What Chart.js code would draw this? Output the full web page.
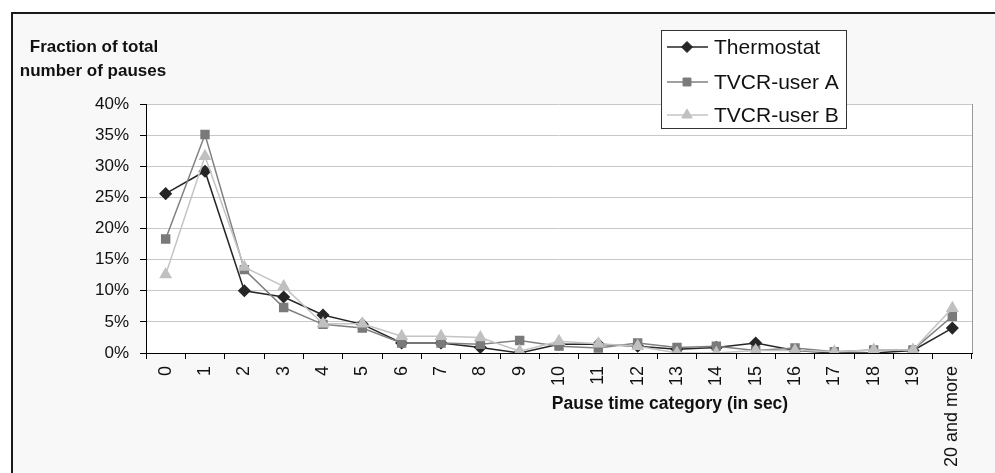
<!DOCTYPE html>
<html>
<head>
<meta charset="utf-8">
<script src="https://cdn.jsdelivr.net/npm/chart.js@4/dist/chart.umd.min.js"></script>
<style>
  html, body { margin: 0; padding: 0; background: #ffffff; }
  body { width: 995px; height: 473px; position: relative; overflow: hidden; }
  #frame { position: absolute; left: 11px; top: 12px; width: 1000px; height: 500px;
           border: 2px solid #1a1a1a; background: #f8f8f8; box-sizing: border-box; }
  #c { position: absolute; left: 0; top: 0; }
</style>
</head>
<body>
<div id="frame"></div>
<canvas id="c" width="995" height="473"></canvas>
<script>
const categories = ['0','1','2','3','4','5','6','7','8','9','10','11','12','13','14','15','16','17','18','19','20 and more'];
const thermostat = [25.6, 29.2, 10.0, 9.0, 6.1, 4.6, 1.6, 1.6, 0.9, 0.0, 1.4, 1.4, 1.1, 0.6, 0.9, 1.6, 0.4, 0.0, 0.0, 0.4, 4.0];
const tvcrUserA  = [18.3, 35.1, 13.4, 7.3, 4.6, 4.0, 1.6, 1.6, 1.4, 2.0, 1.1, 0.8, 1.6, 0.9, 1.1, 0.4, 0.8, 0.2, 0.5, 0.5, 5.9];
const tvcrUserB  = [12.6, 31.6, 13.8, 10.7, 4.7, 4.7, 2.7, 2.7, 2.5, 0.3, 1.9, 1.5, 1.1, 0.0, 0.0, 0.4, 0.4, 0.2, 0.5, 0.5, 7.2];
const seriesNames = ['Thermostat', 'TVCR-user A', 'TVCR-user B'];
const yTitleLines = ['Fraction of total', 'number of pauses'];
const xTitle = 'Pause time category (in sec)';

const FONT = "'Liberation Sans', Arial, sans-serif";

const decor = {
  id: 'decor',
  beforeDraw(chart) {
    const { ctx, chartArea: a } = chart;
    ctx.save();
    ctx.fillStyle = '#ffffff';
    ctx.fillRect(a.left, a.top, a.right - a.left, a.bottom - a.top);
    ctx.restore();
  },
  afterDatasetsDraw(chart) {
    const { ctx, chartArea: a } = chart;
    ctx.save();
    ctx.strokeStyle = '#9a9a9a';
    ctx.lineWidth = 1;
    ctx.beginPath();
    ctx.moveTo(a.right + 0.5, a.top);
    ctx.lineTo(a.right + 0.5, a.bottom);
    ctx.stroke();
    ctx.fillStyle = '#111';
    ctx.font = 'bold 17px ' + FONT;
    ctx.textAlign = 'center';
    ctx.textBaseline = 'middle';
    ctx.fillText(yTitleLines[0], 94, 47);
    ctx.fillText(yTitleLines[1], 93, 71);
    ctx.font = 'bold 17.5px ' + FONT;
    ctx.fillText(xTitle, 670, 404);
    const lx = 661, ly = 30, lw = 185, lh = 98;
    ctx.fillStyle = '#ffffff';
    ctx.fillRect(lx, ly, lw, lh);
    ctx.strokeStyle = '#333';
    ctx.lineWidth = 1;
    ctx.strokeRect(lx + 0.5, ly + 0.5, lw, lh);
    const rows = [47, 82, 115];
    chart.data.datasets.forEach((ds, i) => {
      const y = rows[i];
      ctx.strokeStyle = ds.borderColor;
      ctx.lineWidth = ds.borderWidth;
      ctx.beginPath();
      ctx.moveTo(667, y);
      ctx.lineTo(708, y);
      ctx.stroke();
      ctx.fillStyle = ds.pointBackgroundColor;
      ctx.strokeStyle = ds.pointBorderColor;
      ctx.lineWidth = 1;
      Chart.helpers.drawPoint(ctx, {
        pointStyle: ds.pointStyle, radius: ds.pointRadius, borderWidth: 1
      }, 687, y);
      ctx.fillStyle = '#111';
      ctx.font = '21px ' + FONT;
      ctx.textAlign = 'left';
      ctx.textBaseline = 'middle';
      ctx.fillText(seriesNames[i], 714, y + 1);
    });
    ctx.restore();
  }
};

new Chart(document.getElementById('c'), {
  type: 'line',
  data: {
    labels: categories,
    datasets: [
      { label: seriesNames[0], data: thermostat, borderColor: '#262626', borderWidth: 1.5,
        pointStyle: 'rectRot', pointRadius: 5.5, pointBackgroundColor: '#262626', pointBorderColor: '#262626', order: 2 },
      { label: seriesNames[1], data: tvcrUserA, borderColor: '#808080', borderWidth: 1.5,
        pointStyle: 'rect', pointRadius: 5.6, pointBackgroundColor: '#7a7a7a', pointBorderColor: '#7a7a7a', order: 1 },
      { label: seriesNames[2], data: tvcrUserB, borderColor: '#c4c4c4', borderWidth: 1.5,
        pointStyle: 'triangle', pointRadius: 6, pointBackgroundColor: '#c0c0c0', pointBorderColor: '#c0c0c0', order: 0 }
    ]
  },
  options: {
    responsive: false,
    animation: false,
    devicePixelRatio: 1,
    layout: { padding: { top: 104, right: 23, left: 0, bottom: 0 } },
    elements: { line: { tension: 0 } },
    plugins: { legend: { display: false }, tooltip: { enabled: false }, title: { display: false } },
    scales: {
      x: {
        type: 'category',
        offset: true,
        grid: { offset: true, drawOnChartArea: false, drawTicks: true, tickLength: 6, tickColor: '#000', color: '#000' },
        border: { color: '#000', width: 1 },
        ticks: { autoSkip: false, maxRotation: 90, minRotation: 90, padding: 7, color: '#111',
                 font: { family: FONT, size: 18 } },
        afterFit(s) { s.height = 120; }
      },
      y: {
        min: 0, max: 40,
        ticks: { stepSize: 5, padding: 11, color: '#111', font: { family: FONT, size: 17 },
                 callback: v => v + '%' },
        grid: { color: '#c8c8c8', lineWidth: 1, tickLength: 6, tickColor: '#000' },
        border: { color: '#000', width: 1 },
        afterFit(s) { s.width = 146; }
      }
    }
  },
  plugins: [decor]
});
</script>
</body>
</html>
